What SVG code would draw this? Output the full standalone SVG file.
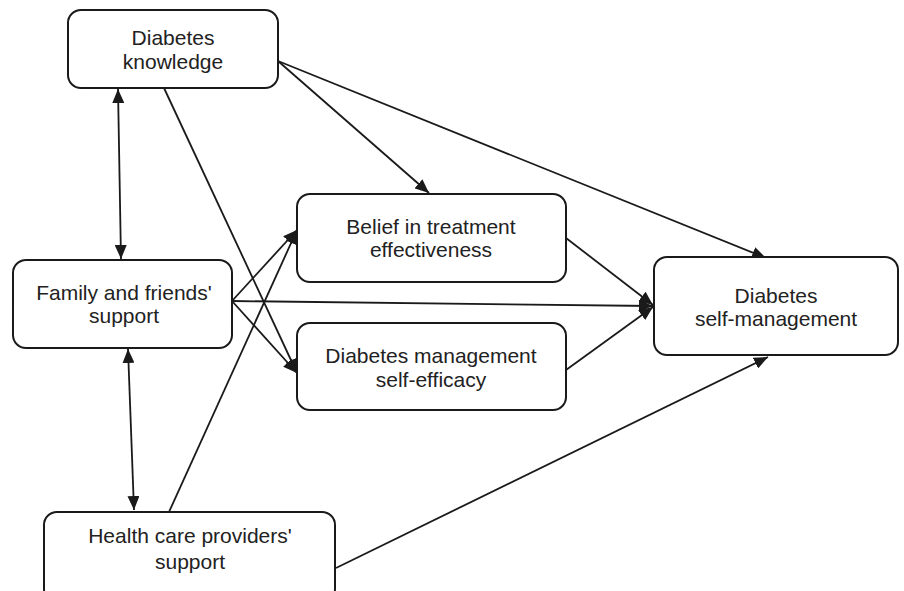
<svg xmlns="http://www.w3.org/2000/svg" width="904" height="591" viewBox="0 0 904 591">
<defs>
<marker id="ah" markerUnits="userSpaceOnUse" markerWidth="14" markerHeight="12" viewBox="0 0 14 12" refX="14" refY="6" orient="auto-start-reverse">
<path d="M0,0 L14,6 L0,12 z" fill="#1a1a1a"/>
</marker>
</defs>
<style>
.box{fill:#fff;stroke:#1a1a1a;stroke-width:2}
.lbl{font-family:"Liberation Sans",Arial,sans-serif;font-size:21px;fill:#222;text-anchor:middle}
.c{stroke:#1a1a1a;stroke-width:1.8;fill:none}
.a{marker-end:url(#ah)}
.b{marker-start:url(#ah);marker-end:url(#ah)}
</style>
<rect width="904" height="591" fill="#fff"/>
<g id="connectors">
<line class="c b" x1="118" y1="89" x2="121" y2="259"/>
<line class="c b" x1="128" y1="349" x2="134" y2="510"/>
<line class="c a" x1="278" y1="61" x2="429" y2="193"/>
<line class="c a" x1="278" y1="61" x2="766" y2="258"/>
<line class="c a" x1="164" y1="88" x2="297" y2="373"/>
<line class="c a" x1="232" y1="301" x2="297" y2="230"/>
<line class="c a" x1="232" y1="301" x2="297" y2="373"/>
<line class="c a" x1="232" y1="301" x2="653" y2="306"/>
<line class="c a" x1="169" y1="512" x2="297" y2="230"/>
<line class="c a" x1="566" y1="238" x2="653" y2="305"/>
<line class="c a" x1="566" y1="370" x2="653" y2="307"/>
<line class="c a" x1="336" y1="568" x2="768" y2="357"/>
</g>
<g id="knowledge">
<rect class="box" x="68" y="10" width="210" height="78" rx="13"/>
<text class="lbl" x="173" y="45">Diabetes</text>
<text class="lbl" x="173" y="69">knowledge</text>
</g>
<g id="family">
<rect class="box" x="13" y="260" width="219" height="88" rx="13"/>
<text class="lbl" x="124" y="300">Family and friends'</text>
<text class="lbl" x="124" y="323">support</text>
</g>
<g id="health">
<rect class="box" x="44" y="512" width="291" height="90" rx="13"/>
<text class="lbl" x="190" y="543">Health care providers'</text>
<text class="lbl" x="190" y="569">support</text>
</g>
<g id="belief">
<rect class="box" x="297" y="194" width="269" height="88" rx="13"/>
<text class="lbl" x="431" y="234">Belief in treatment</text>
<text class="lbl" x="431" y="257">effectiveness</text>
</g>
<g id="efficacy">
<rect class="box" x="297" y="323" width="269" height="87" rx="13"/>
<text class="lbl" x="431" y="363">Diabetes management</text>
<text class="lbl" x="431" y="387">self-efficacy</text>
</g>
<g id="selfmanagement">
<rect class="box" x="654" y="257" width="244" height="98" rx="13"/>
<text class="lbl" x="776" y="303">Diabetes</text>
<text class="lbl" x="776" y="326">self-management</text>
</g>
</svg>
